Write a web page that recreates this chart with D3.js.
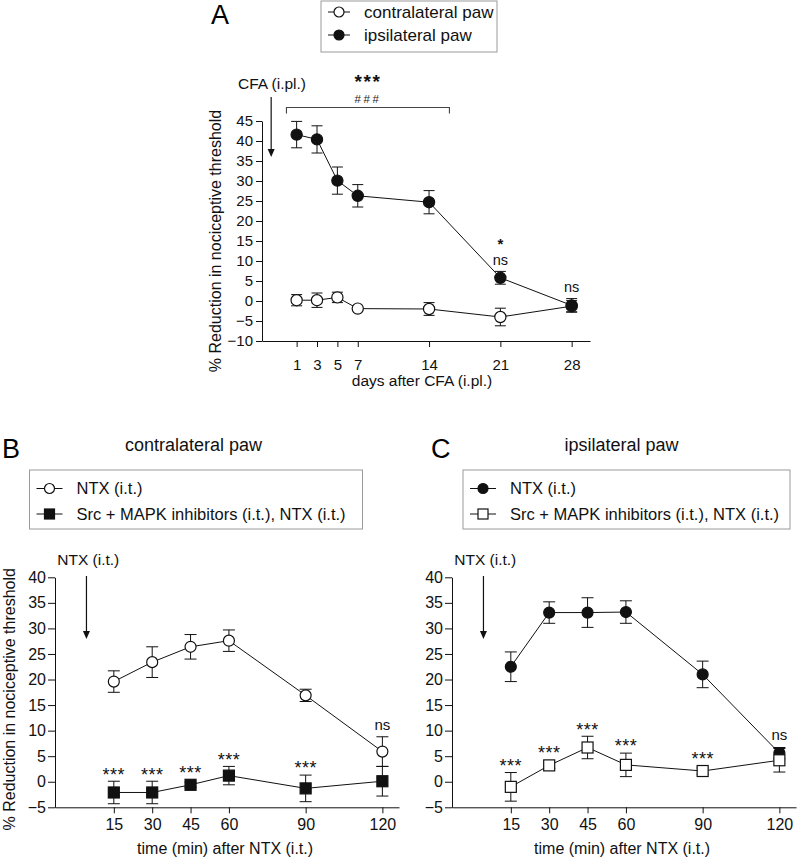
<!DOCTYPE html>
<html><head><meta charset="utf-8">
<script src="https://cdn.jsdelivr.net/npm/d3@7/dist/d3.min.js"></script>
<style>
html,body{margin:0;padding:0;background:#fff;}
svg{display:block;font-family:Arial,"Liberation Sans",sans-serif;}
</style></head>
<body>
<svg id="chart" width="800" height="857"></svg>
<script>
// ---------- DATA ----------
// Panel A
const daysA = [1, 3, 5, 7, 14, 21, 28];
const contraA = [0.2, 0.2, 0.9, -1.9, -2.0, -4.0, -1.3];
const contraAErr = [1.4, 1.8, 1.3, 0.4, 1.6, 2.2, 1.4];
const ipsiA = [41.6, 40.4, 30.1, 26.3, 24.7, 5.8, -1.1];
const ipsiAErr = [3.3, 3.4, 3.4, 2.8, 2.9, 1.6, 1.7];
const yTicksA = [-10, -5, 0, 5, 10, 15, 20, 25, 30, 35, 40, 45];
const legendA = ["contralateral paw", "ipsilateral paw"];
const annotA = [{x: 21, lines: ["*", "ns"]}, {x: 28, lines: ["ns"]}];
const bracketA = {from: 0, to: 16, lines: ["***", "###"]};

// Panels B and C
const timesBC = [15, 30, 45, 60, 90, 120];
const ntxB = [19.6, 23.4, 26.4, 27.6, 16.9, 5.9];
const ntxBErr = [2.1, 3.0, 2.4, 2.1, 1.2, 2.9];
const inhB = [-2.1, -2.1, -0.6, 1.2, -1.3, 0.1];
const inhBErr = [2.2, 2.2, 0.5, 1.8, 2.6, 2.9];
const ntxC = [22.5, 33.1, 33.1, 33.2, 21.0, 5.6];
const ntxCErr = [2.9, 2.1, 2.9, 2.2, 2.6, 1.1];
const inhC = [-1.0, 3.2, 6.7, 3.3, 2.1, 4.2];
const inhCErr = [2.8, 0.6, 2.2, 2.3, 0.6, 2.3];
const yTicksBC = [-5, 0, 5, 10, 15, 20, 25, 30, 35, 40];
const legendBC = ["NTX (i.t.)", "Src + MAPK inhibitors (i.t.), NTX (i.t.)"];
const sigBC = ["***", "***", "***", "***", "***", "ns"];

// ---------- DRAW ----------
const svg = d3.select("#chart");
const INK = "#111";
const ASC = 0.905, DESC = 0.212;   // font box (Liberation Sans / Arial)

function marker(g, kind, cx, cy, size) {
  if (kind === "circleOpen" || kind === "circleFill") {
    g.append("circle").attr("cx", cx).attr("cy", cy).attr("r", size)
      .attr("fill", kind === "circleOpen" ? "#fff" : INK)
      .attr("stroke", INK).attr("stroke-width", 1.2);
  } else {
    g.append("rect").attr("x", cx - size).attr("y", cy - size)
      .attr("width", size * 2).attr("height", size * 2)
      .attr("fill", kind === "squareOpen" ? "#fff" : INK)
      .attr("stroke", INK).attr("stroke-width", 1.2);
  }
}

function series(g, x, y, xs, vals, errs, kind, size, cap) {
  const line = d3.line().x((d, i) => x(xs[i])).y(d => y(d));
  g.append("path").datum(vals).attr("d", line)
    .attr("fill", "none").attr("stroke", INK).attr("stroke-width", 1);
  vals.forEach((v, i) => {
    const cx = x(xs[i]);
    const y1 = y(v + errs[i]), y2 = y(v - errs[i]);
    g.append("line").attr("x1", cx).attr("x2", cx).attr("y1", y1).attr("y2", y2)
      .attr("stroke", INK).attr("stroke-width", 1);
    [y1, y2].forEach(yy => g.append("line").attr("x1", cx - cap).attr("x2", cx + cap)
      .attr("y1", yy).attr("y2", yy).attr("stroke", INK).attr("stroke-width", 1));
  });
  vals.forEach((v, i) => marker(g, kind, x(xs[i]), y(v), size));
}

function styleAxis(sel, fs) {
  sel.selectAll("path").attr("stroke", INK).attr("stroke-width", 1);
  sel.selectAll("line").attr("stroke", INK).attr("stroke-width", 1);
  sel.selectAll("text").attr("fill", INK).style("font-size", fs + "px")
    .style("font-family", 'Arial,"Liberation Sans",sans-serif');
}

function arrow(g, x, yTop, yTip) {
  g.append("line").attr("x1", x).attr("x2", x).attr("y1", yTop).attr("y2", yTip - 7)
    .attr("stroke", INK).attr("stroke-width", 1.2);
  g.append("path").attr("d", `M${x - 3.5},${yTip - 8} L${x + 3.5},${yTip - 8} L${x},${yTip} Z`)
    .attr("fill", INK);
}

function legendBox(g, x0, y0, w, h, rows, kinds, symX0, symX1, textX, rowYs, fs) {
  g.append("rect").attr("x", x0).attr("y", y0).attr("width", w).attr("height", h)
    .attr("fill", "#fff").attr("stroke", "#9a9a9a").attr("stroke-width", 1);
  rows.forEach((t, i) => {
    const yy = rowYs[i];
    g.append("line").attr("x1", symX0).attr("x2", symX1).attr("y1", yy).attr("y2", yy)
      .attr("stroke", INK).attr("stroke-width", 1);
    marker(g, kinds[i], (symX0 + symX1) / 2, yy, 5);
    g.append("text").attr("x", textX).attr("y", yy).attr("dy", "0.36em")
      .style("font-size", fs + "px").attr("fill", INK).text(t);
  });
}

// Text placed by baseline
function label(g, cx, base, t, fs, ls, fill, weight) {
  return g.append("text").attr("x", cx).attr("y", base).attr("text-anchor", "middle")
    .style("font-size", fs + "px").style("letter-spacing", (ls || 0) + "px")
    .style("font-weight", weight || "normal")
    .attr("fill", fill || INK).text(t);
}
// Stack of labels from the bottom upward; bottom label's visual centre at cy.
// Each next label sits just above the previous one's font box.
function stackUp(g, cx, cy, items) {
  let base = null, prevTop = null;
  for (let k = items.length - 1; k >= 0; k--) {
    const it = items[k];
    const isStar = it.t.indexOf("*") >= 0;
    if (base === null) base = isStar ? cy + 0.6 * it.fs : cy + 0.36 * it.fs;
    else base = prevTop - DESC * it.fs - 0.3;
    label(g, cx, base, it.t, it.fs, it.ls, it.fill, it.weight);
    prevTop = base - ASC * it.fs;
  }
}

// ===== Panel A =====
(function () {
  const g = svg.append("g");
  const x = d3.scaleLinear().domain([-2.4, 29.8]).range([262, 590]);
  const y = d3.scaleLinear().domain([-10, 45]).range([341, 121]);

  const ya = g.append("g").attr("transform", `translate(${x(-2.4)},0)`)
    .call(d3.axisLeft(y).tickValues(yTicksA).tickSize(6).tickPadding(3).tickSizeOuter(0));
  styleAxis(ya, 15);
  const xa = g.append("g").attr("transform", `translate(0,${y(-10)})`)
    .call(d3.axisBottom(x).tickValues(daysA).tickSize(6).tickPadding(12).tickSizeOuter(0));
  styleAxis(xa, 15);

  g.append("text").attr("transform", `translate(215,${(y(45) + y(-10)) / 2 + 10}) rotate(-90)`)
    .attr("text-anchor", "middle").attr("dy", "0.36em").style("font-size", "16px")
    .attr("fill", INK).text("% Reduction in nociceptive threshold");
  g.append("text").attr("x", 422).attr("y", 380).attr("dy", "0.36em")
    .attr("text-anchor", "middle").style("font-size", "15.5px").attr("fill", INK)
    .text("days after CFA (i.pl.)");

  series(g, x, y, daysA, contraA, contraAErr, "circleOpen", 5.6, 5.5);
  series(g, x, y, daysA, ipsiA, ipsiAErr, "circleFill", 5.6, 5.5);

  // bracket & significance
  const bx0 = x(bracketA.from), bx1 = x(bracketA.to), by = 107.5;
  g.append("path").attr("d", `M${bx0},${by + 6} V${by} H${bx1} V${by + 6}`)
    .attr("fill", "none").attr("stroke", "#444").attr("stroke-width", 1.1);
  stackUp(g, (bx0 + bx1) / 2, 98.5, [
    {t: bracketA.lines[0], fs: 19, ls: 1.5, weight: "bold"},
    {t: bracketA.lines[1], fs: 11.5, ls: 2.5, fill: "#222"}
  ]);

  annotA.forEach(a => {
    const i = daysA.indexOf(a.x);
    const cy = y(ipsiA[i] + ipsiAErr[i]) - 11.5;
    stackUp(g, x(a.x), cy, a.lines.map(t => ({t, fs: t === "*" ? 15 : 14.5, weight: t === "*" ? "bold" : "normal"})));
  });

  g.append("text").attr("x", 272).attr("y", 83).attr("dy", "0.36em").attr("text-anchor", "middle")
    .style("font-size", "15.5px").attr("fill", INK).text("CFA (i.pl.)");
  arrow(g, x(-1.5), 97, 157);

  g.append("text").attr("x", 211).attr("y", 24).style("font-size", "27px").attr("fill", "#000").text("A");
  legendBox(g, 321, 1, 176, 51, legendA, ["circleOpen", "circleFill"], 328, 350, 364, [12, 35], 17);
})();

// ===== Panels B and C =====
function panelBC(off, letter, title, ntx, ntxErr, inh, inhErr, ntxKind, inhKind, showYLabel, legX0, legW, titleX, letterX) {
  const g = svg.append("g");
  const x = d3.scaleLinear().domain([-8, 126.5]).range([55 + off, 399 + off]);
  const y = d3.scaleLinear().domain([-5, 40]).range([807.3, 577.3]);

  const ya = g.append("g").attr("transform", `translate(${x(-8)},0)`)
    .call(d3.axisLeft(y).tickValues(yTicksBC).tickSize(7).tickPadding(2).tickSizeOuter(0));
  styleAxis(ya, 16);
  const xa = g.append("g").attr("transform", `translate(0,${y(-5)})`)
    .call(d3.axisBottom(x).tickValues(timesBC).tickSize(6).tickPadding(5).tickSizeOuter(0));
  styleAxis(xa, 16);

  if (showYLabel) {
    g.append("text").attr("transform", `translate(9,${(y(40) + y(-5)) / 2 + 7}) rotate(-90)`)
      .attr("text-anchor", "middle").attr("dy", "0.36em").style("font-size", "16px")
      .attr("fill", INK).text("% Reduction in nociceptive threshold");
  }
  g.append("text").attr("x", x(58.5)).attr("y", 848).attr("dy", "0.36em")
    .attr("text-anchor", "middle").style("font-size", "16px").attr("fill", INK)
    .text("time (min) after NTX (i.t.)");

  series(g, x, y, timesBC, ntx, ntxErr, ntxKind, 5.5, 6);
  series(g, x, y, timesBC, inh, inhErr, inhKind, 5.5, 6);

  sigBC.forEach((s, i) => {
    const useNtx = s === "ns";
    const v = useNtx ? ntx[i] : inh[i], e = useNtx ? ntxErr[i] : inhErr[i];
    const top = Math.min(y(v + e), y(v) - 5.5);
    if (s === "ns") stackUp(g, x(timesBC[i]), top - 12.5, [{t: s, fs: 15}]);
    else stackUp(g, x(timesBC[i]), top - 11.5, [{t: s, fs: 18, ls: 0.5}]);
  });

  g.append("text").attr("x", x(5)).attr("y", 559.5).attr("dy", "0.36em").attr("text-anchor", "middle")
    .style("font-size", "15.5px").attr("fill", INK).text("NTX (i.t.)");
  arrow(g, x(4.3), 576, 639);

  g.append("text").attr("x", titleX).attr("y", 445).attr("dy", "0.36em").attr("text-anchor", "middle")
    .style("font-size", "18px").attr("fill", INK).text(title);
  g.append("text").attr("x", letterX).attr("y", 458).style("font-size", "27px").attr("fill", "#000").text(letter);

  legendBox(g, legX0, 470, legW, 59, legendBC, [ntxKind, inhKind],
    legX0 + 7, legX0 + 33, legX0 + 47, [488.5, 514], 16.5);
}

panelBC(0, "B", "contralateral paw", ntxB, ntxBErr, inhB, inhBErr, "circleOpen", "squareFill", true, 29.5, 333, 193.5, 2);
panelBC(397, "C", "ipsilateral paw", ntxC, ntxCErr, inhC, inhCErr, "circleFill", "squareOpen", false, 463, 327, 621.5, 431);
</script>
</body></html>
